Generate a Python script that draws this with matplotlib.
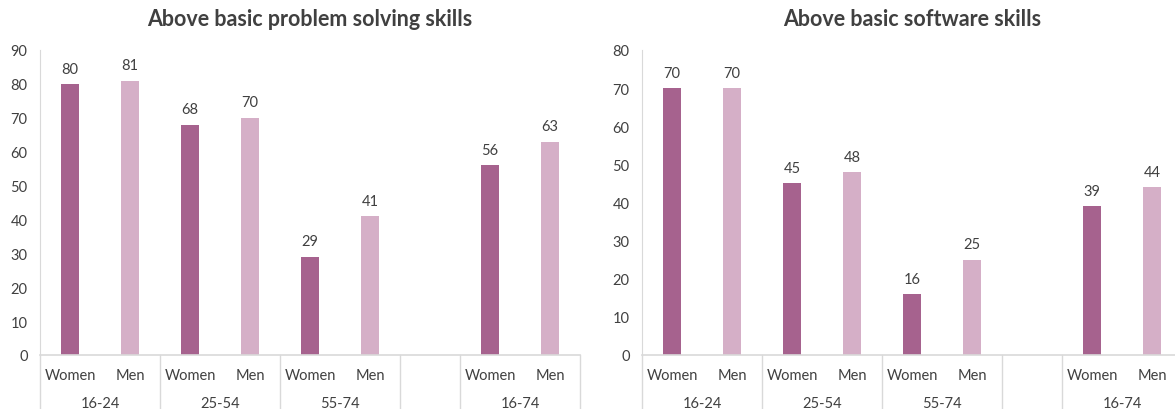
import matplotlib
matplotlib.use("Agg")
import matplotlib.pyplot as plt
import matplotlib.transforms as mtransforms

plt.rcParams['font.family'] = ['Lato', 'DejaVu Sans']

# data
groups = ['16-24', '25-54', '55-74', '16-74']
sexes = ['Women', 'Men']
problem_women = [80, 68, 29, 56]
problem_men = [81, 70, 41, 63]
software_women = [70, 45, 16, 39]
software_men = [70, 48, 25, 44]

titles = ['Above basic problem solving skills', 'Above basic software skills']
ymax = [90, 80]

women_color = '#A6628E'
men_color = '#D5AFC7'
text_color = '#404040'
line_color = '#D9D9D9'

# slot positions: 3 groups, a blank slot, then the total group
group_start = [0, 2, 4, 7]

fig = plt.figure(figsize=(11.75, 4.1), dpi=100)
W, H = 1175, 410
ax_left = fig.add_axes([40 / W, (H - 356) / H, 540 / W, 305 / H])
ax_right = fig.add_axes([642 / W, (H - 356) / H, 540 / W, 305 / H])


def draw_panel(ax, women, men, title, top):
    xw = [g for g in group_start]
    xm = [g + 1 for g in group_start]
    bw = ax.bar(xw, women, width=0.3, color=women_color, zorder=2)
    bm = ax.bar(xm, men, width=0.3, color=men_color, zorder=2)
    for bars in (bw, bm):
        ax.bar_label(bars, padding=6, fontsize=10.5, color=text_color)

    ax.set_xlim(-0.5, 8.5)
    ax.set_ylim(0, top)
    ax.set_yticks(range(0, top + 1, 10))
    ax.tick_params(axis='y', length=0, pad=9, labelsize=10.5, labelcolor=text_color)
    ax.set_xticks([])
    for side in ('top', 'right'):
        ax.spines[side].set_visible(False)
    ax.spines['left'].set_color(line_color)
    ax.spines['bottom'].set_color(line_color)
    ax.spines['bottom'].set_linewidth(1.2)

    trans = mtransforms.blended_transform_factory(ax.transData, ax.transAxes)
    for g, name in zip(group_start, groups):
        ax.text(g, -0.066, sexes[0], transform=trans, ha='center', va='center',
                fontsize=10.5, color=text_color)
        ax.text(g + 1, -0.066, sexes[1], transform=trans, ha='center', va='center',
                fontsize=10.5, color=text_color)
        ax.text(g + 0.5, -0.157, name, transform=trans, ha='center', va='center',
                fontsize=10.5, color=text_color)
    for s in [-0.5, 1.5, 3.5, 5.5, 6.5, 8.5]:
        ax.plot([s, s], [0, -0.2], transform=trans, color=line_color, lw=1,
                clip_on=False)

    ax.set_title(title, fontsize=15.5, fontweight='bold', color=text_color, pad=18)


draw_panel(ax_left, problem_women, problem_men, titles[0], ymax[0])
draw_panel(ax_right, software_women, software_men, titles[1], ymax[1])

fig.savefig('out.png', dpi=100)
